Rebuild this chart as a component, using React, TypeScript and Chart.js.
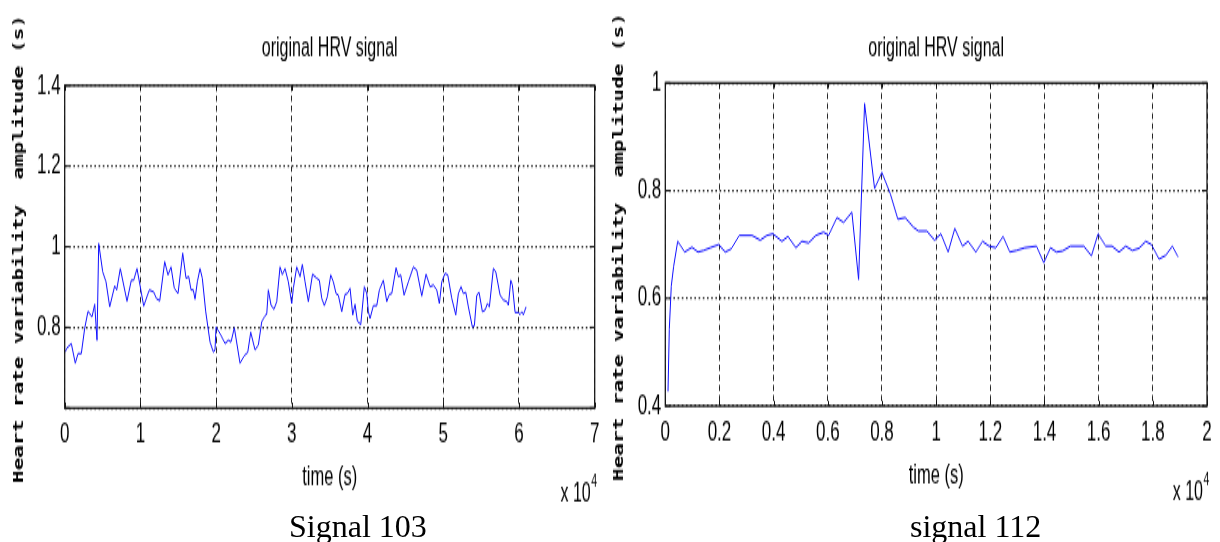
import React, { useEffect, useRef } from "react";
import { Chart, registerables } from "chart.js";

Chart.register(...registerables);

// ---------------- data ----------------
// Signal 103 : time (s) and HRV amplitude (s)
const SIG103_TIME = [
  79, 264, 872, 1400, 1757, 2193, 2642, 3078, 3606, 3963,
  4267, 4491, 5020, 5456, 5945, 6605, 6869, 7345, 8230, 8798,
  9115, 9551, 10436, 11176, 11757, 12100, 12550, 13210, 13646, 14042,
  14478, 14967, 15588, 16024, 16380, 16684, 16988, 17213, 17517, 17873,
  18177, 18626, 19194, 19630, 19855, 19987, 20515, 21176, 21612, 21968,
  22404, 23157, 23725, 24174, 24571, 25139, 25575, 26024, 26460, 26684,
  26896, 27253, 27649, 28006, 28441, 28745, 29102, 29538, 29987, 30198,
  30647, 31083, 31387, 31744, 32180, 32734, 33289, 33633, 33950, 34293,
  34690, 35139, 35482, 35839, 36143, 36592, 37028, 37332, 37688, 38045,
  38349, 38653, 39102, 39577, 39894, 40106, 40330, 40766, 41215, 41559,
  42087, 42536, 42880, 43197, 43765, 44069, 44386, 44822, 45390, 46050,
  46499, 47160, 47728, 48256, 48692, 49141, 49485, 49802, 50238, 50594,
  51123, 51651, 51995, 52351, 52655, 52972, 53316, 53844, 54108, 54425,
  54729, 55165, 55522, 55826, 56090, 56618, 56935, 57503, 57939, 58388,
  58600, 58917, 59128, 59485, 59921, 60145, 60370, 60581, 60938,
];
const SIG103_AMP = [
  0.739, 0.748, 0.76, 0.711, 0.735, 0.735, 0.798, 0.84, 0.826, 0.857,
  0.768, 1.008, 0.938, 0.913, 0.851, 0.903, 0.893, 0.946, 0.865, 0.917,
  0.917, 0.946, 0.853, 0.893, 0.888, 0.872, 0.866, 0.963, 0.93, 0.95,
  0.897, 0.884, 0.984, 0.922, 0.926, 0.893, 0.893, 0.87, 0.913, 0.946,
  0.922, 0.839, 0.764, 0.739, 0.744, 0.801, 0.785, 0.76, 0.768, 0.764,
  0.799, 0.711, 0.73, 0.738, 0.788, 0.744, 0.756, 0.814, 0.829, 0.833,
  0.893, 0.855, 0.845, 0.864, 0.95, 0.931, 0.946, 0.913, 0.859, 0.897,
  0.95, 0.926, 0.956, 0.913, 0.864, 0.932, 0.922, 0.917, 0.872, 0.854,
  0.876, 0.93, 0.913, 0.884, 0.88, 0.839, 0.882, 0.884, 0.897, 0.831,
  0.857, 0.816, 0.807, 0.901, 0.884, 0.839, 0.822, 0.854, 0.854, 0.893,
  0.917, 0.864, 0.882, 0.884, 0.948, 0.926, 0.93, 0.88, 0.913, 0.95,
  0.942, 0.878, 0.932, 0.901, 0.905, 0.893, 0.859, 0.913, 0.934, 0.93,
  0.872, 0.831, 0.884, 0.901, 0.884, 0.887, 0.851, 0.801, 0.804, 0.88,
  0.887, 0.839, 0.843, 0.859, 0.851, 0.946, 0.938, 0.88, 0.868, 0.864,
  0.855, 0.917, 0.905, 0.837, 0.837, 0.832, 0.839, 0.831, 0.851,
];
const SIG103_X_TICKS = [0, 1, 2, 3, 4, 5, 6, 7]; // x 10^4
const SIG103_X_LABELS = ["0", "1", "2", "3", "4", "5", "6", "7"];
const SIG103_Y_TICKS = [0.6, 0.8, 1, 1.2, 1.4];
const SIG103_Y_LABELS = ["", "0.8", "1", "1.2", "1.4"];

// Signal 112
const SIG112_TIME = [
  100, 148, 221, 310, 458, 716, 985, 1207, 1417, 1661,
  1970, 2214, 2435, 2731, 3199, 3506, 3753, 3974, 4306, 4528,
  4823, 5044, 5292, 5561, 5845, 6030, 6336, 6583, 6889, 7137,
  7358, 7727, 7996, 8303, 8587, 8856, 9166, 9351, 9657, 9941,
  10177, 10443, 10690, 10974, 11181, 11465, 11712, 11956, 12203, 12472,
  12720, 12967, 13273, 13705, 13974, 14221, 14443, 14664, 14959, 15450,
  15734, 15978, 16262, 16494, 16753, 17000, 17247, 17491, 17738, 17948,
  18229, 18476, 18723, 18930,
];
const SIG112_AMP = [
  0.427, 0.543, 0.623, 0.66, 0.706, 0.686, 0.695, 0.686, 0.689, 0.694,
  0.7, 0.686, 0.692, 0.717, 0.717, 0.708, 0.717, 0.72, 0.706, 0.715,
  0.694, 0.706, 0.703, 0.717, 0.723, 0.717, 0.75, 0.741, 0.76, 0.635,
  0.962, 0.804, 0.834, 0.795, 0.747, 0.75, 0.732, 0.725, 0.725, 0.708,
  0.72, 0.686, 0.73, 0.697, 0.706, 0.686, 0.706, 0.697, 0.694, 0.715,
  0.686, 0.689, 0.694, 0.697, 0.666, 0.694, 0.686, 0.688, 0.697, 0.697,
  0.679, 0.72, 0.697, 0.697, 0.686, 0.697, 0.689, 0.693, 0.706, 0.7,
  0.673, 0.68, 0.697, 0.677,
];
const SIG112_X_TICKS = [0, 0.2, 0.4, 0.6, 0.8, 1, 1.2, 1.4, 1.6, 1.8, 2]; // x 10^4
const SIG112_X_LABELS = ["0", "0.2", "0.4", "0.6", "0.8", "1", "1.2", "1.4", "1.6", "1.8", "2"];
const SIG112_Y_TICKS = [0.4, 0.6, 0.8, 1];
const SIG112_Y_LABELS = ["0.4", "0.6", "0.8", "1"];

const CHART_TITLE = "original HRV signal";
const X_TITLE = "time (s)";
const Y_TITLE = "Heart rate variability  amplitude (s)";
const CAPTIONS = ["Signal 103", "signal 112"];

// ---------------- layout ----------------
const STRETCH = 1.65; // the whole figure is stretched vertically
const PANEL_W = 610;
const CANVAS_H = 310; // drawn height ~ 511
const SANS = '"Liberation Sans", Arial, Helvetica, sans-serif';
const MONO = '"DejaVu Sans Mono", "Liberation Mono", monospace';

type PanelCfg = {
  time: number[];
  amp: number[];
  xTicks: number[];
  xLabels: string[];
  yTicks: number[];
  yLabels: string[];
  plotLeft: number; // real px within panel
  plotRight: number;
  plotTop: number;
  plotBottom: number;
  yTitleX: number;
  yTitleCenter: number;
};

const frame = {
  id: "matlabFrame",
  afterDatasetsDraw(chart: any, _args: any, opts: any) {
    const { ctx, chartArea: a, scales } = chart;
    const xs = scales.x;
    const ys = scales.y;
    ctx.save();
    ctx.setLineDash([]);
    ctx.strokeStyle = "#111";
    ctx.lineWidth = 1;
    ctx.beginPath();
    xs.ticks.forEach((t: any) => {
      const px = Math.round(xs.getPixelForValue(t.value)) + 0.5;
      ctx.moveTo(px, a.bottom);
      ctx.lineTo(px, a.bottom - 3.2);
      ctx.moveTo(px, a.top);
      ctx.lineTo(px, a.top + 3.2);
    });
    ys.ticks.forEach((t: any) => {
      const py = ys.getPixelForValue(t.value);
      ctx.moveTo(a.left, py);
      ctx.lineTo(a.left + 5, py);
      ctx.moveTo(a.right, py);
      ctx.lineTo(a.right - 5, py);
    });
    ctx.stroke();
    ctx.lineWidth = 1.3;
    ctx.strokeStyle = "#1a1a1a";
    ctx.strokeRect(a.left, a.top, a.right - a.left, a.bottom - a.top);

    // exponent label "x 10^4"
    ctx.fillStyle = "#000";
    ctx.textBaseline = "middle";
    ctx.textAlign = "right";
    ctx.font = `16px ${SANS}`;
    ctx.fillText("x 10", a.right - 4, a.bottom + 52.5);
    ctx.textAlign = "left";
    ctx.font = `10.5px ${SANS}`;
    ctx.fillText("4", a.right - 3.5, a.bottom + 45);

    // y axis title (bold, stretched along its length like the original)
    ctx.font = `bold 14.5px ${MONO}`;
    const w = ctx.measureText(opts.text).width;
    const k = opts.length / STRETCH / w;
    ctx.translate(opts.x, opts.center / STRETCH);
    ctx.rotate(-Math.PI / 2);
    ctx.scale(k, 1);
    ctx.textAlign = "center";
    ctx.textBaseline = "middle";
    ctx.fillText(opts.text, 0, 0);
    ctx.restore();
  },
};

function HrvPanel({ cfg, left }: { cfg: PanelCfg; left: number }) {
  const ref = useRef<HTMLCanvasElement | null>(null);
  useEffect(() => {
    if (!ref.current) return;
    const s = STRETCH;
    const top = cfg.plotTop / s;
    const bottom = cfg.plotBottom / s;
    const titleFont = 16;
    const titleCenter = 49 / s;
    const titlePadTop = titleCenter - 0.6 * titleFont;
    const titlePadBottom = top - titlePadTop - 1.2 * titleFont;
    const tickFont = 17;
    const xLabelCenter = (cfg.plotBottom + 26) / s;
    const xTitleFont = 16.5;
    const xTitleCenter = (cfg.plotBottom + 70) / s;
    const xAxisH = CANVAS_H - bottom;

    const chart = new Chart(ref.current, {
      type: "line",
      data: {
        datasets: [
          {
            data: cfg.time.map((t, i) => ({ x: t, y: cfg.amp[i] })),
            borderColor: "#1010ff",
            borderWidth: 1,
            pointRadius: 0,
            fill: false,
            tension: 0,
          },
        ],
      },
      plugins: [frame],
      options: {
        responsive: false,
        animation: false,
        events: [],
        layout: { padding: { left: 0, right: PANEL_W - cfg.plotRight, top: 0, bottom: 0 } },
        plugins: {
          legend: { display: false },
          tooltip: { enabled: false },
          title: {
            display: true,
            fullSize: false,
            text: CHART_TITLE,
            color: "#000",
            font: { family: SANS, size: titleFont, weight: "normal", lineHeight: 1.2 },
            padding: { top: titlePadTop, bottom: titlePadBottom },
          },
          matlabFrame: {
            text: Y_TITLE,
            x: cfg.yTitleX,
            center: cfg.yTitleCenter,
            length: 468,
          },
        },
        scales: {
          x: {
            type: "linear",
            min: cfg.xTicks[0] * 1e4,
            max: cfg.xTicks[cfg.xTicks.length - 1] * 1e4,
            afterBuildTicks: (sc: any) => {
              sc.ticks = cfg.xTicks.map((v) => ({ value: v * 1e4 }));
            },
            afterFit: (sc: any) => {
              sc.height = xAxisH;
            },
            ticks: {
              autoSkip: false,
              maxRotation: 0,
              color: "#000",
              font: { family: SANS, size: tickFont, lineHeight: 1.2 },
              padding: xLabelCenter - bottom - 0.6 * tickFont,
              callback: (_v: any, i: number) => cfg.xLabels[i],
            },
            grid: { color: "rgba(0,0,0,0.85)", lineWidth: 1, drawTicks: false },
            border: { display: false, dash: [3.6, 2.5] },
            title: {
              display: true,
              text: X_TITLE,
              color: "#000",
              font: { family: SANS, size: xTitleFont, lineHeight: 1.2 },
              padding: { top: 0, bottom: CANVAS_H - xTitleCenter - 0.6 * xTitleFont },
            },
          },
          y: {
            type: "linear",
            min: cfg.yTicks[0],
            max: cfg.yTicks[cfg.yTicks.length - 1],
            afterBuildTicks: (sc: any) => {
              sc.ticks = cfg.yTicks.map((v) => ({ value: v }));
            },
            afterFit: (sc: any) => {
              sc.width = cfg.plotLeft;
            },
            ticks: {
              autoSkip: false,
              color: "#000",
              font: { family: SANS, size: tickFont, lineHeight: 1.2 },
              padding: 4,
              callback: (_v: any, i: number) => cfg.yLabels[i],
            },
            grid: { color: "rgba(0,0,0,0.85)", lineWidth: 1.2, drawTicks: false },
            border: { display: false, dash: [1.6, 2.6] },
            title: { display: false },
          },
        },
      } as any,
    });
    return () => chart.destroy();
  }, [cfg]);

  return (
    <div style={{ position: "absolute", left, top: 0, width: PANEL_W, height: CANVAS_H * STRETCH }}>
      <canvas
        ref={ref}
        width={PANEL_W}
        height={CANVAS_H}
        style={{
          display: "block",
          width: PANEL_W,
          height: CANVAS_H,
          transform: `scaleY(${STRETCH})`,
          transformOrigin: "0 0",
        }}
      />
    </div>
  );
}

const PANEL_103: PanelCfg = {
  time: SIG103_TIME,
  amp: SIG103_AMP,
  xTicks: SIG103_X_TICKS,
  xLabels: SIG103_X_LABELS,
  yTicks: SIG103_Y_TICKS,
  yLabels: SIG103_Y_LABELS,
  plotLeft: 64.7,
  plotRight: 594.7,
  plotTop: 85.5,
  plotBottom: 408,
  yTitleX: 19,
  yTitleCenter: 249,
};

const PANEL_112: PanelCfg = {
  time: SIG112_TIME,
  amp: SIG112_AMP,
  xTicks: SIG112_X_TICKS,
  xLabels: SIG112_X_LABELS,
  yTicks: SIG112_Y_TICKS,
  yLabels: SIG112_Y_LABELS,
  plotLeft: 55.3,
  plotRight: 597,
  plotTop: 83,
  plotBottom: 406,
  yTitleX: 9,
  yTitleCenter: 247,
};

export default function App() {
  const capStyle: React.CSSProperties = {
    position: "absolute",
    top: 510,
    fontFamily: '"Liberation Serif", "Times New Roman", serif',
    fontSize: 32,
    lineHeight: "32px",
    color: "#000",
    whiteSpace: "nowrap",
  };
  return (
    <div
      style={{
        position: "absolute",
        left: 0,
        top: 0,
        width: 1220,
        height: 542,
        background: "#fff",
        overflow: "hidden",
      }}
    >
      <HrvPanel cfg={PANEL_103} left={0} />
      <HrvPanel cfg={PANEL_112} left={PANEL_W} />
      <div style={{ ...capStyle, left: 289 }}>{CAPTIONS[0]}</div>
      <div style={{ ...capStyle, left: 910 }}>{CAPTIONS[1]}</div>
    </div>
  );
}
